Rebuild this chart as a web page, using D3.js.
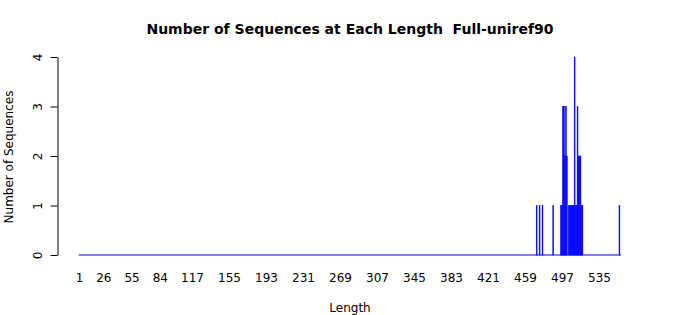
<!DOCTYPE html>
<html>
<head>
<meta charset="utf-8">
<script src="https://cdn.jsdelivr.net/npm/d3@7"></script>
<style>
  body { margin: 0; background: #fff; }
  svg text { font-family: "DejaVu Sans", sans-serif; fill: #000; }
</style>
</head>
<body>
<div id="chart"></div>
<script>
// sequence lengths that occur, and how many sequences have that length
var lengths = [471, 474, 477, 488, 496, 497, 498, 499, 500, 501, 502,
               504, 505, 506, 507, 508, 509, 510, 511, 512, 513, 514, 515, 516, 517, 518, 556];
var counts  = [1, 1, 1, 1, 1, 1, 3, 3, 2, 3, 2,
               1, 1, 1, 1, 1, 1, 4, 1, 1, 3, 2, 2, 2, 1, 1, 1];
var maxLength = 557;
var xTicks = [1, 26, 55, 84, 117, 155, 193, 231, 269, 307, 345, 383, 421, 459, 497, 535];
var yTicks = [0, 1, 2, 3, 4];

var width = 700, height = 315;
var plotLeft = 79, plotRight = 620.4, plotTop = 57, plotBottom = 255;

var svg = d3.select('#chart').append('svg')
    .attr('width', width)
    .attr('height', height);

var x = d3.scaleLinear().domain([1, maxLength]).range([plotLeft, plotRight]);
var y = d3.scaleLinear().domain([0, 4]).range([plotBottom, plotTop]);
var barW = (x(2) - x(1)) / 1.2;

// title
svg.append('text')
    .attr('x', 350).attr('y', 34)
    .attr('text-anchor', 'middle')
    .style('font-weight', 'bold')
    .style('font-size', '14px')
    .style('white-space', 'pre')
    .text('Number of Sequences at Each Length  Full-uniref90');

// baseline made by the zero-height bars
svg.append('line')
    .attr('x1', x(1) - barW / 2).attr('x2', x(maxLength) + barW / 2)
    .attr('y1', y(0)).attr('y2', y(0))
    .attr('stroke', 'blue').attr('stroke-width', 1);

// bars
svg.append('g').selectAll('rect')
    .data(lengths)
    .enter().append('rect')
      .attr('x', function(d) { return x(d) - barW / 2; })
      .attr('width', barW)
      .attr('y', function(d, i) { return y(counts[i]); })
      .attr('height', function(d, i) { return y(0) - y(counts[i]); })
      .attr('fill', 'blue')
      .attr('stroke', 'blue')
      .attr('stroke-width', 0.6);

// y axis
var yAxis = svg.append('g')
    .attr('transform', 'translate(57.5,0)')
    .call(d3.axisLeft(y).tickValues(yTicks).tickSize(7).tickSizeOuter(0).tickFormat(d3.format('d')));
yAxis.select('.domain').attr('stroke', '#000');
yAxis.selectAll('.tick line').attr('stroke', '#000');
yAxis.selectAll('.tick text')
    .style('font-size', '12px')
    .attr('x', null).attr('dy', null)
    .attr('text-anchor', 'middle')
    .attr('transform', 'translate(-20,0) rotate(-90)')
    .attr('dominant-baseline', 'central');

// x axis labels, no axis line (barplot names)
var xAxis = svg.append('g')
    .attr('transform', 'translate(0,' + plotBottom + ')')
    .call(d3.axisBottom(x).tickValues(xTicks).tickSize(0).tickPadding(18));
xAxis.select('.domain').remove();
xAxis.selectAll('.tick text').style('font-size', '12px');

svg.append('text')
    .attr('x', 350).attr('y', 312)
    .attr('text-anchor', 'middle')
    .style('font-size', '12px')
    .text('Length');

svg.append('text')
    .attr('transform', 'translate(13,157) rotate(-90)')
    .attr('text-anchor', 'middle')
    .style('font-size', '12px')
    .text('Number of Sequences');
</script>
</body>
</html>
